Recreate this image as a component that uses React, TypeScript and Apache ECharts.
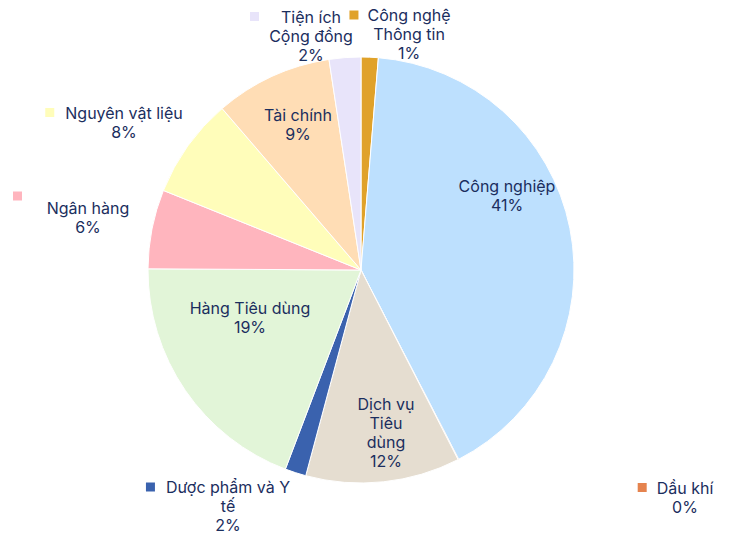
import React, { useEffect, useRef } from "react";
import * as echarts from "echarts";

const categories = [
  "Công nghệ Thông tin",
  "Công nghiệp",
  "Dầu khí",
  "Dịch vụ Tiêu dùng",
  "Dược phẩm và Y tế",
  "Hàng Tiêu dùng",
  "Ngân hàng",
  "Nguyên vật liệu",
  "Tài chính",
  "Tiện ích Cộng đồng",
];
const values = [1.3, 41.1, 0.05, 11.7, 1.6, 19.3, 6.0, 7.6, 8.9, 2.4];
const wrappedNames = [
  ["Công nghệ", "Thông tin"],
  ["Công nghiệp"],
  ["Dầu khí"],
  ["Dịch vụ", "Tiêu", "dùng"],
  ["Dược phẩm và Y", "tế"],
  ["Hàng Tiêu dùng"],
  ["Ngân hàng"],
  ["Nguyên vật liệu"],
  ["Tài chính"],
  ["Tiện ích", "Cộng đồng"],
];
const colors = [
  "#E0A22A",
  "#BDE0FE",
  "#E5834E",
  "#E5DDD0",
  "#3A62AE",
  "#E2F5D8",
  "#FFB5BE",
  "#FFFDBA",
  "#FFDDB5",
  "#E8E4FA",
];
// key placement: "inline" (left of first line), "above" (own line), or none
const keyMode = ["inline", "", "inline", "", "inline", "", "above", "inline", "", "inline"];
// label block centre, offset from pie centre (px)
const labelOffsets: [number, number][] = [
  [48, -236],
  [146, -74.5],
  [324, 227],
  [25, 162.5],
  [-133, 236],
  [-111, 47.5],
  [-273, -55],
  [-237, -148],
  [-63, -145.5],
  [-50, -234.5],
];
const KEY = 9;
// gap between key and text; a spacer of gap + key width balances the line
const keyGap = [9, 0, 10, 0, 11, 0, 141, 11, 0, 22];

const CX = 361;
const CY = 270;
const R = 213;
const TEXT = "#1B2E5E";
const FONT = 16;

export default function App() {
  const ref = useRef<HTMLDivElement>(null);
  useEffect(() => {
    if (!ref.current) return;
    const chart = echarts.init(ref.current, undefined, { renderer: "svg" });
    const total = values.reduce((a, b) => a + b, 0);
    const data = categories.map((name, i) => {
      const pct = Math.round((values[i] / total) * 100) + "%";
      const lines = wrappedNames[i].map((l) => `{t|${l}}`);
      if (keyMode[i] === "inline") {
        lines[0] = `{sq|}{g|}${lines[0]}{g2|}`;
      } else if (keyMode[i] === "above") {
        lines.unshift(`{sqs|}{gs|}`);
      }
      lines.push(`{t|${pct}}`);
      const text = lines.join("\n");
      return {
        name,
        value: values[i],
        itemStyle: { color: colors[i] },
        label: {
          formatter: () => text,
          rich: {
            t: { fontFamily: "Inter", fontSize: FONT, color: TEXT, lineHeight: 19 },
            sq: { width: KEY, height: KEY, backgroundColor: colors[i] },
            g: { width: keyGap[i], height: KEY },
            g2: { width: keyGap[i] + KEY, height: KEY },
            sqs: { width: KEY, height: KEY, lineHeight: 4, backgroundColor: colors[i] },
            gs: { width: keyGap[i], height: KEY, lineHeight: 4 },
          },
        },
      };
    });
    chart.setOption({
      animation: false,
      backgroundColor: "#ffffff",
      series: [
        {
          type: "pie",
          center: [CX, CY],
          radius: R,
          startAngle: 90,
          clockwise: true,
          avoidLabelOverlap: false,
          itemStyle: { borderColor: "#ffffff", borderWidth: 1 },
          label: {
            show: true,
            position: "inside",
            color: TEXT,
            fontFamily: "Inter",
            fontSize: FONT,
            align: "center",
          },
          labelLine: { show: false },
          emphasis: { disabled: true },
          labelLayout: (params: any) => {
            const o = labelOffsets[params.dataIndex];
            return {
              x: CX + o[0],
              y: CY + o[1],
              align: "center",
              verticalAlign: "middle",
            };
          },
          data,
        },
      ],
    });
    return () => chart.dispose();
  }, []);
  return (
    <div
      ref={ref}
      style={{ position: "fixed", left: 0, top: 0, width: 732, height: 536 }}
    />
  );
}
